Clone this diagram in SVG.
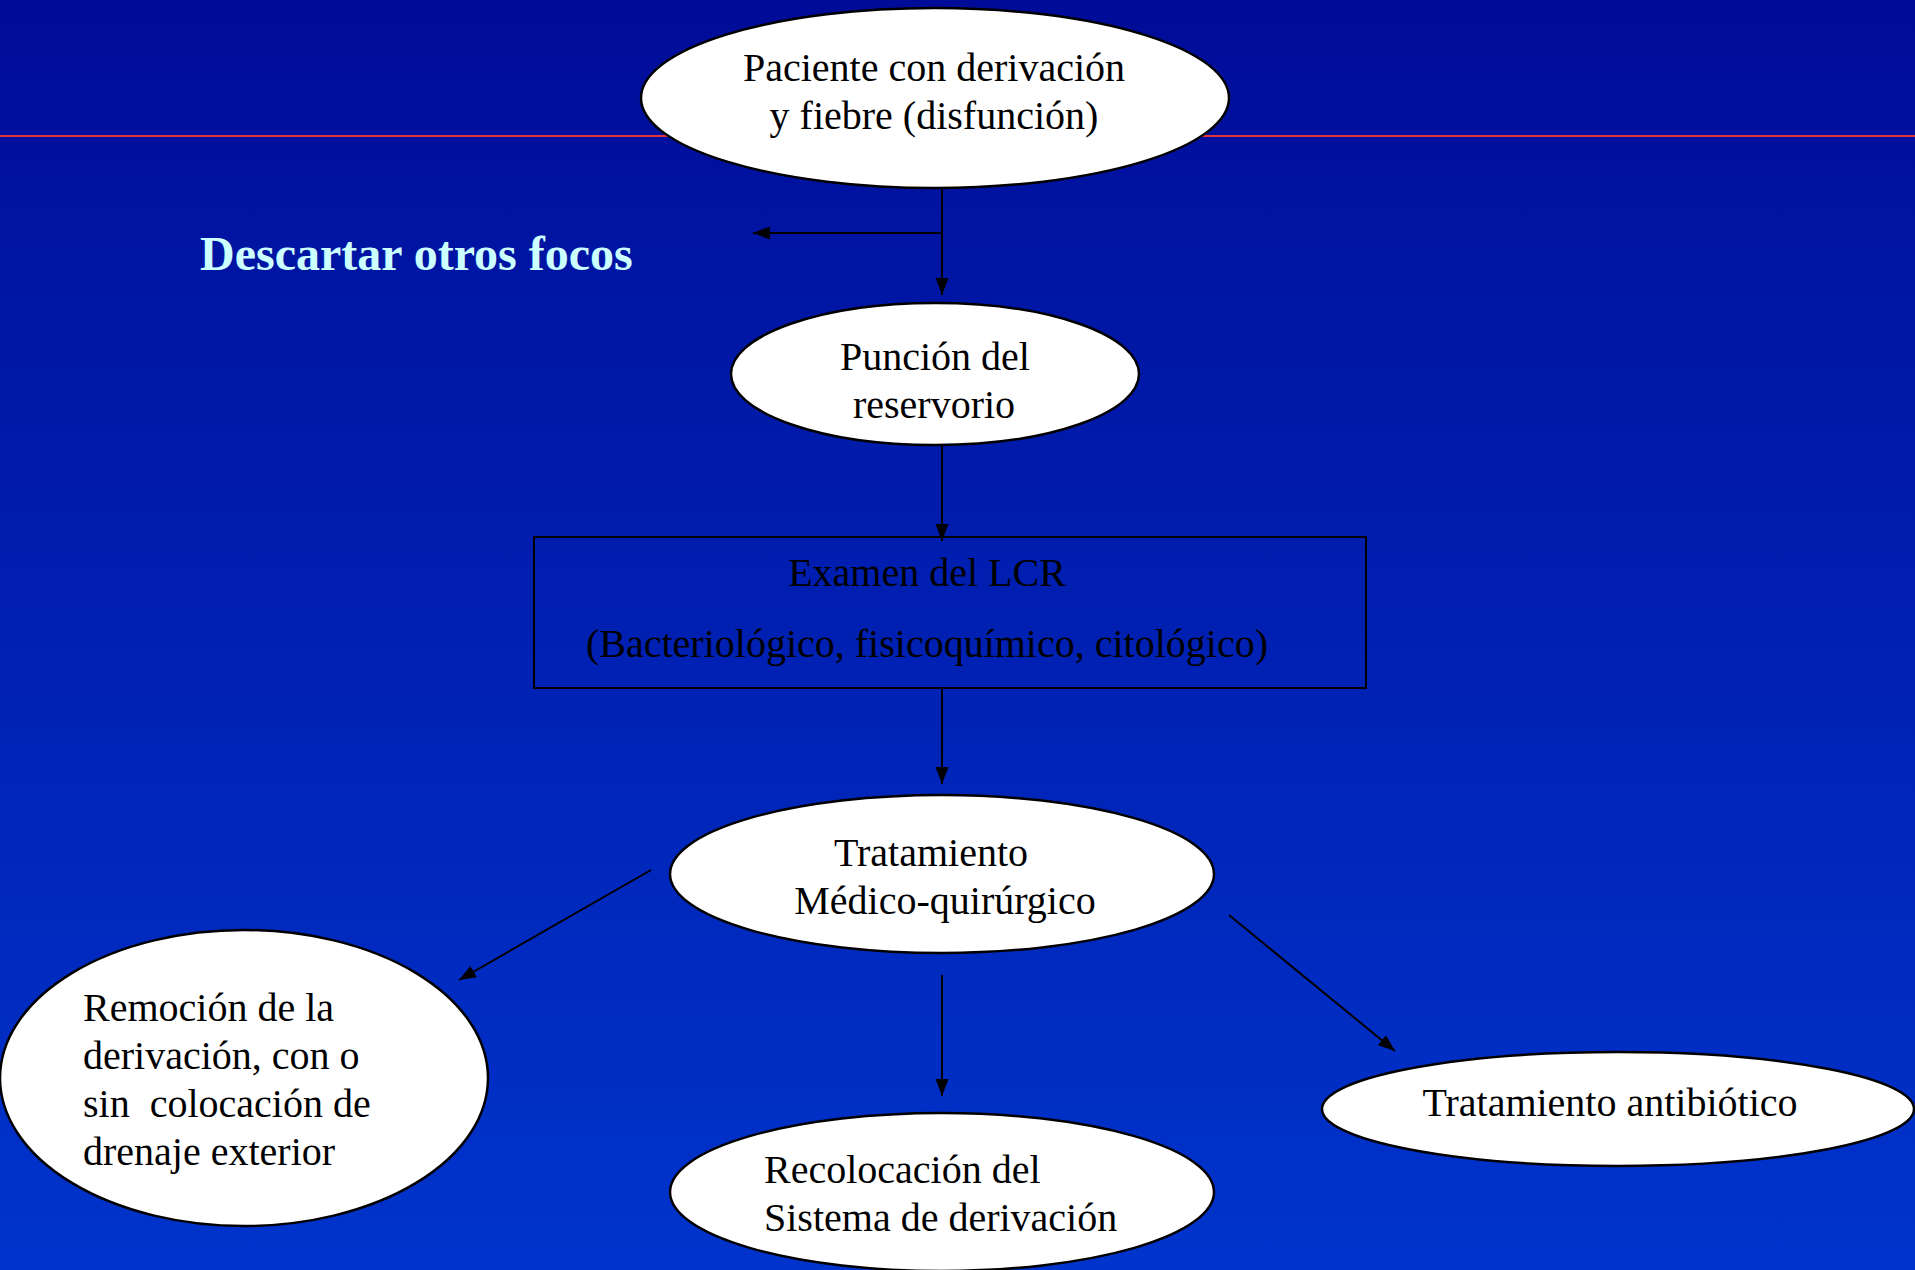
<svg xmlns="http://www.w3.org/2000/svg" width="1915" height="1270" viewBox="0 0 1915 1270">
<defs>
<linearGradient id="bg" x1="0" y1="0" x2="0" y2="1">
<stop offset="0" stop-color="#000C98"/>
<stop offset="1" stop-color="#0034CC"/>
</linearGradient>
<marker id="ah" viewBox="0 0 17 13" refX="17" refY="6.5" markerWidth="17" markerHeight="13" markerUnits="userSpaceOnUse" orient="auto">
<path d="M0,0 L17,6.5 L0,13 Z" fill="#000"/>
</marker>
<style>
.n{fill:#fff;stroke:#000;stroke-width:2.5}
.t{font-family:'Liberation Serif','Times New Roman',serif;font-size:40px;fill:#000}
.c{text-anchor:middle}
.e{stroke:#000;stroke-width:2;fill:none;marker-end:url(#ah)}
.h{font-family:'Liberation Serif','Times New Roman',serif;font-weight:bold;font-size:48px;fill:#CCFFFF}
</style>
</defs>
<rect width="1915" height="1270" fill="url(#bg)"/>
<line x1="0" y1="136" x2="1915" y2="136" stroke="#E8333A" stroke-width="2"/>
<text class="h" x="200" y="270">Descartar otros focos</text>
<g id="connectors">
<line class="e" x1="942" y1="189" x2="942" y2="295"/>
<line class="e" x1="942" y1="233" x2="753" y2="233"/>
<line class="e" x1="942" y1="446" x2="942" y2="541"/>
<line class="e" x1="942" y1="689" x2="942" y2="784"/>
<line class="e" x1="651" y1="870" x2="459" y2="980"/>
<line class="e" x1="942" y1="975" x2="942" y2="1096"/>
<line class="e" x1="1229" y1="915" x2="1395" y2="1051"/>
</g>
<g id="n1">
<ellipse class="n" cx="935" cy="98" rx="294" ry="90"/>
<text class="t c" x="934" y="81">Paciente con derivación</text>
<text class="t c" x="934" y="129">y fiebre (disfunción)</text>
</g>
<g id="n2">
<ellipse class="n" cx="935" cy="374" rx="204" ry="71"/>
<text class="t c" x="935" y="370">Punción del</text>
<text class="t c" x="934" y="418">reservorio</text>
</g>
<g id="n3">
<rect x="534" y="537" width="832" height="151" fill="none" stroke="#000" stroke-width="2"/>
<text class="t c" x="927" y="586">Examen del LCR</text>
<text class="t c" x="927" y="657">(Bacteriológico, fisicoquímico, citológico)</text>
</g>
<g id="n4">
<ellipse class="n" cx="942" cy="874" rx="272" ry="79"/>
<text class="t c" x="931" y="866">Tratamiento</text>
<text class="t c" x="945" y="914">Médico-quirúrgico</text>
</g>
<g id="n5">
<ellipse class="n" cx="244" cy="1078" rx="244" ry="148"/>
<text class="t" x="83" y="1021">Remoción de la</text>
<text class="t" x="83" y="1069">derivación, con o</text>
<text class="t" x="83" y="1117" xml:space="preserve">sin  colocación de</text>
<text class="t" x="83" y="1165">drenaje exterior</text>
</g>
<g id="n6">
<ellipse class="n" cx="942" cy="1192" rx="272" ry="79"/>
<text class="t" x="764" y="1183">Recolocación del</text>
<text class="t" x="764" y="1231">Sistema de derivación</text>
</g>
<g id="n7">
<ellipse class="n" cx="1618" cy="1109" rx="296" ry="57"/>
<text class="t c" x="1610" y="1116">Tratamiento antibiótico</text>
</g>
</svg>
